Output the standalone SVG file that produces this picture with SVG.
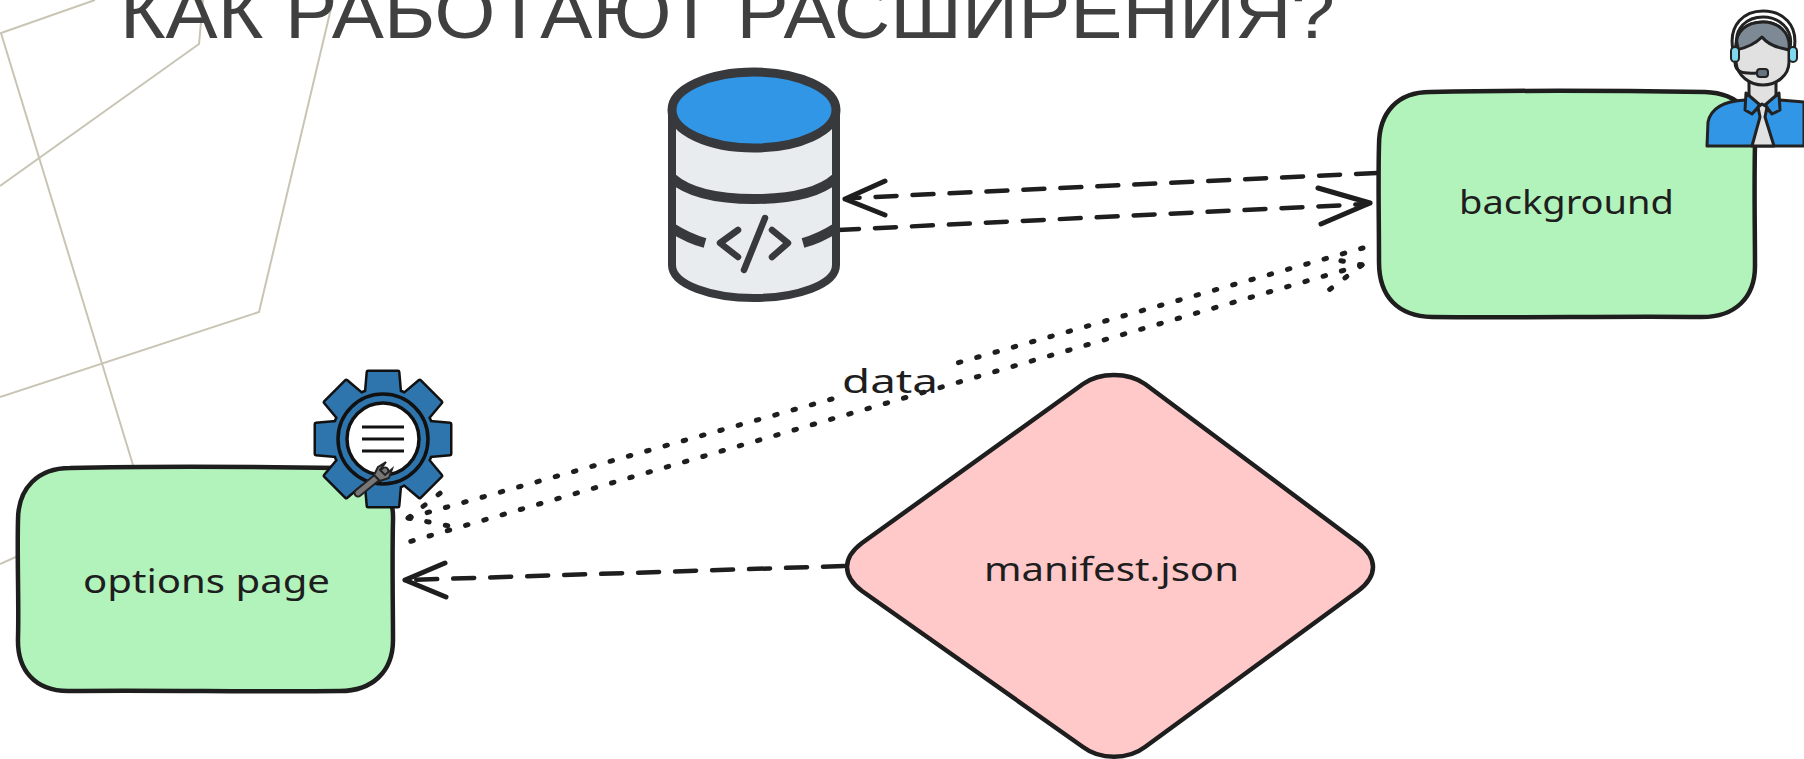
<svg xmlns="http://www.w3.org/2000/svg" width="1804" height="759" viewBox="0 0 1804 759">
<style>
.deco{fill:none;stroke:#c9c5b4;stroke-width:2}
.box{stroke:#1e1e1e;stroke-width:4.5;stroke-linejoin:round}
.lab{font-family:"Noto Sans","DejaVu Sans",sans-serif;fill:#1e1e1e;font-size:32px;text-anchor:start}
.dash{fill:none;stroke:#1e1e1e;stroke-width:4.5;stroke-dasharray:21 16;stroke-linecap:round}
.dot{fill:none;stroke:#1e1e1e;stroke-width:5;stroke-dasharray:2.5 16.5;stroke-linecap:round}
.head{fill:none;stroke:#1e1e1e;stroke-width:5;stroke-linecap:round;stroke-linejoin:round}
.db{fill:none;stroke:#37393c;stroke-width:10;stroke-linecap:butt}
.ink{fill:none;stroke:#222;stroke-width:3;stroke-linejoin:round;stroke-linecap:round}
.person{stroke:#222;stroke-width:3;stroke-linejoin:round}
</style>
<defs>
<path id="tooth" d="M-17,-44 L-15,-67 H15 L17,-44 Z"/>
<g id="gearshape">
<use href="#tooth"/><use href="#tooth" transform="rotate(45)"/><use href="#tooth" transform="rotate(90)"/><use href="#tooth" transform="rotate(135)"/><use href="#tooth" transform="rotate(180)"/><use href="#tooth" transform="rotate(225)"/><use href="#tooth" transform="rotate(270)"/><use href="#tooth" transform="rotate(315)"/>
<circle r="50"/>
</g>
</defs>
<rect width="1804" height="759" fill="#fff"/>
<g id="decor">
<path class="deco" d="M95,0 L1,33 L133,465"/>
<path class="deco" d="M0,186 L199,44 L203,0"/>
<path class="deco" d="M333,0 L259,312 L0,397"/>
<path class="deco" d="M0,564 L18,556"/>
</g>
<text id="title" x="120" y="38" font-family="'Liberation Sans',Arial,sans-serif" font-size="75" fill="#404040" textLength="1215" lengthAdjust="spacingAndGlyphs">КАК РАБОТАЮТ РАСШИРЕНИЯ?</text>

<g id="connectors">
<path class="dash" d="M1377,173 L852,198"/>
<path class="head" d="M845,199 L885,181 M845,199 L885,215"/>
<path class="dash" d="M838,230 L1368,204"/>
<path class="head" d="M1370,203 L1318,188 M1370,203 L1321,224"/>
<path class="dash" d="M844,566 L410,580"/>
<path class="head" d="M405,580 L445,563 M405,580 L446,597"/>
<path class="dot" d="M1363,248 L943,367"/>
<path class="dot" d="M832,399 L408,518"/>
<path class="dot" d="M1362,265 L405,543"/>
<path class="dot" d="M1362,265 L1327,258 M1362,265 L1325,293"/>
<path class="dot" d="M408,518 L443,491 M408,518 L460,528"/>
</g>

<g id="background-node">
<path class="box" fill="#b2f2bb" d="M1430,92 C1530,90 1640,91 1705,92 C1740,93 1756,115 1755,145 C1754,190 1755,230 1755,266 C1755,298 1735,317 1702,317 C1620,316 1520,318 1432,317 C1398,316 1379,297 1379,262 C1379,220 1378,180 1379,145 C1379,112 1398,92 1430,92 Z"/>
<text class="lab" x="1459" y="214" textLength="215" lengthAdjust="spacingAndGlyphs">background</text>
</g>

<g id="options-node">
<path class="box" fill="#b2f2bb" d="M70,468 C160,466 270,467 342,468 C376,469 394,490 393,520 C392,565 393,605 393,640 C393,672 372,691 340,691 C250,692 160,690 68,691 C35,691 17,670 18,638 C19,600 17,560 18,520 C18,488 38,468 70,468 Z"/>
<text class="lab" x="83" y="593" textLength="247" lengthAdjust="spacingAndGlyphs">options page</text>
</g>

<g id="manifest-node">
<path class="box" fill="#ffc9c9" d="M1083,384 C1100,372 1128,372 1145,384 L1358,543 C1378,558 1378,576 1358,591 L1145,747 C1128,760 1100,760 1083,747 L862,591 C842,576 842,558 862,543 Z"/>
<text class="lab" x="984" y="581" textLength="255" lengthAdjust="spacingAndGlyphs">manifest.json</text>
</g>

<text id="label-data" class="lab" x="842" y="393" textLength="96" lengthAdjust="spacingAndGlyphs">data</text>

<g id="database-icon">
<path d="M672,109 V265 C672,285 712,298 754,298 S836,285 836,265 V109 Z" fill="#e9ecef" stroke="#37393c" stroke-width="8"/>
<ellipse cx="754" cy="110" rx="82" ry="38" fill="#3296e6" stroke="#37393c" stroke-width="9"/>
<path class="db" d="M672,178 C690,194 720,199 754,199 S818,194 836,178"/>
<path class="db" d="M672,228 C683,235 694,240 705,243 M803,243 C814,240 825,235 836,228"/>
<path d="M738,230 L720,243 L738,257 M772,230 L788,243 L772,257 M765,218 L744,270" fill="none" stroke="#37393c" stroke-width="6.5" stroke-linecap="round" stroke-linejoin="round"/>
</g>

<g id="gear-icon">
<g transform="translate(383,439)">
<use href="#gearshape" fill="#111" stroke="#111" stroke-width="5" stroke-linejoin="round"/>
<use href="#gearshape" fill="#2f75ad"/>
<circle r="45" fill="#2f75ad" stroke="#111" stroke-width="3.5"/>
<circle r="36" fill="#fff" stroke="#111" stroke-width="3.5"/>
<path d="M-21,-12 H21 M-21,0 H21 M-21,12 H21" stroke="#111" stroke-width="3"/>
</g>
<path d="M358,493 L385,471" stroke="#222" stroke-width="9" stroke-linecap="round"/>
<path d="M358,493 L385,471" stroke="#777" stroke-width="5" stroke-linecap="round"/>
<path d="M378,467 L386,462 L380,470 L385,475 L392,469 L389,478 L380,481 L374,475 Z" fill="#777" stroke="#222" stroke-width="2"/>
</g>

<g id="agent-icon">
<path class="person" d="M1707,146 L1708,122 C1711,108 1725,101 1745,100 L1752,113 L1762,105 L1772,113 L1780,100 L1804,102 V146 Z" fill="#3296e6"/>
<path class="person" d="M1749,82 H1776 V104 L1763,113 L1749,104 Z" fill="#e1e1e1"/>
<path class="person" d="M1736,48 C1736,30 1748,22 1763,22 C1778,22 1789,32 1789,50 V62 C1789,76 1776,85 1763,85 C1750,85 1737,76 1736,62 Z" fill="#e1e1e1"/>
<path class="person" d="M1736,50 C1734,30 1748,22 1763,22 C1778,22 1791,32 1789,50 L1781,48 C1772,46 1766,42 1762,37 C1755,44 1746,48 1736,50 Z" fill="#7d8a96"/>
<path class="ink" d="M1733,50 C1728,24 1745,11 1763,11 C1782,11 1799,24 1794,50 M1738,48 C1732,28 1748,17 1763,17 C1778,17 1794,28 1790,48"/>
<rect x="1731" y="47" width="8" height="15" rx="4" fill="#7fd8ee" stroke="#222" stroke-width="2"/>
<rect x="1789" y="47" width="8" height="15" rx="4" fill="#7fd8ee" stroke="#222" stroke-width="2"/>
<path class="ink" d="M1735,62 C1735,72 1742,74 1757,73"/>
<rect x="1757" y="69" width="11" height="8" rx="3" fill="#667480" stroke="#222" stroke-width="2"/>
<path class="person" d="M1746,93 L1760,105 L1752,114 L1745,110 L1746,93 Z M1779,93 L1765,105 L1772,114 L1780,110 Z" fill="#3296e6"/>
<path class="person" d="M1758,107 L1762,104 L1767,107 L1765,117 L1774,146 H1752 L1760,117 Z" fill="#e1e1e1"/>
</g>
</svg>
